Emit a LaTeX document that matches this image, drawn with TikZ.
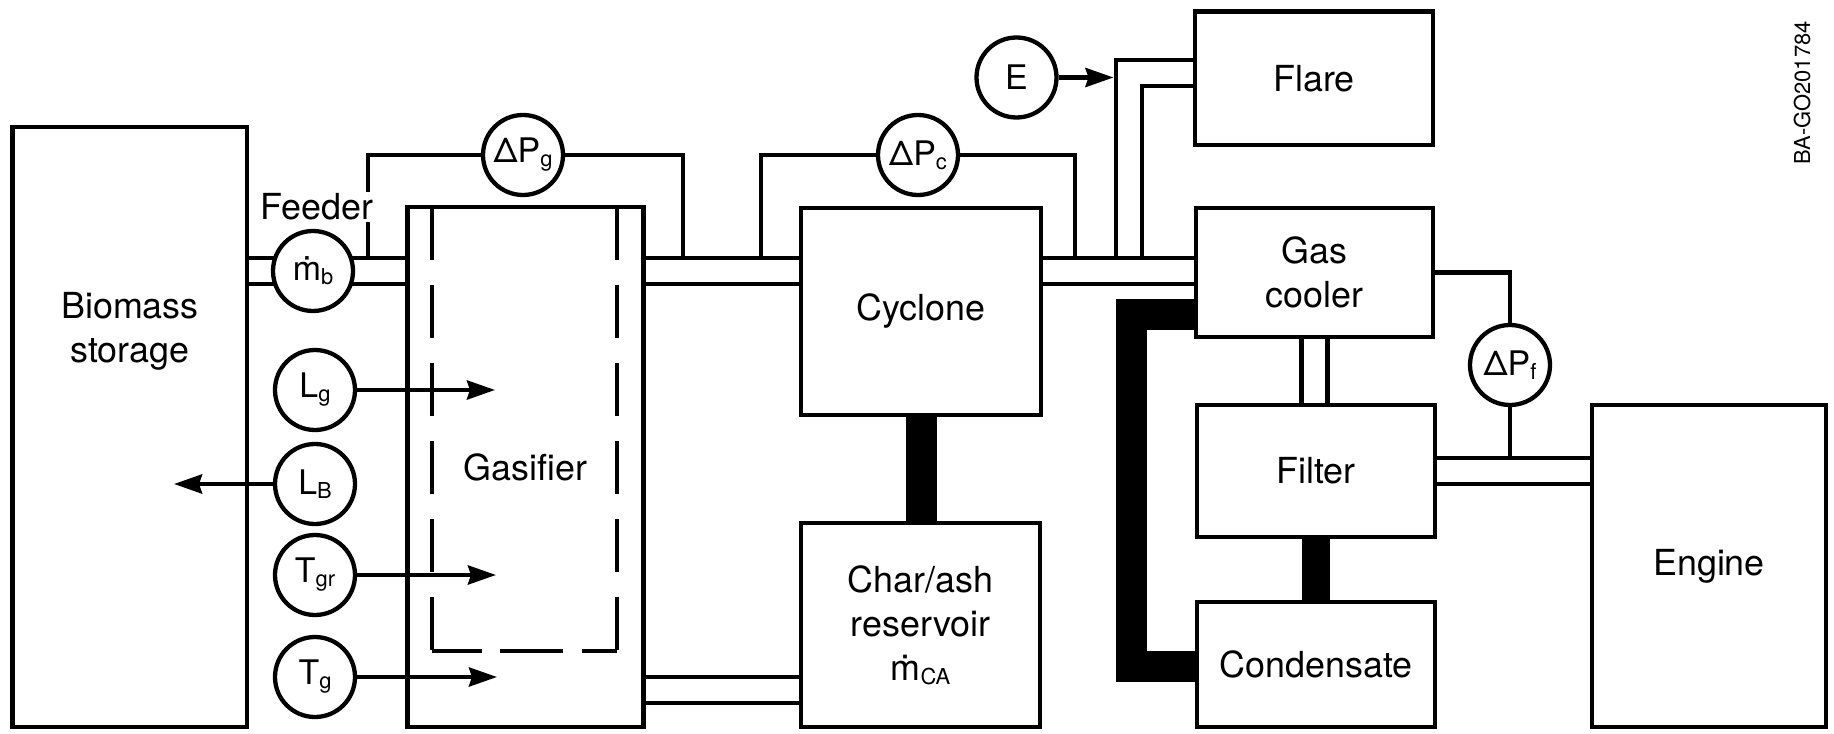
\documentclass[tikz,border=0pt]{standalone}
\usepackage{fontspec}
\setmainfont{TeX Gyre Heros}
\usetikzlibrary{arrows.meta,calc}
\pgfdeclarelayer{background}
\pgfsetlayers{background,main}
\newcommand\mysub[1]{\raisebox{-4bp}{\fontsize{22}{22}\selectfont #1}}
\newcommand\mdot{\accent"02D9 m}
\begin{document}
\begin{tikzpicture}[x=1bp,y=-1bp,
  every node/.style={font=\fontsize{36}{44}\selectfont},
  box/.style={draw, line width=4.3bp, inner sep=0pt, align=center},
  gauge/.style={draw, circle, line width=4.3bp, fill=white, minimum size=80bp, inner sep=0pt, font=\fontsize{34}{40}\selectfont},
  pipe/.style={line width=4.3bp, double=white, double distance=21.7bp},
  wire/.style={line width=4.3bp},
  arr/.style={line width=4.3bp, -{Stealth[length=28bp,width=19bp,inset=3bp]}},
  dashside/.style={line width=4.3bp, dash pattern=on 53bp off 25bp}]
\useasboundingbox (0,0) rectangle (1834,734);

% boxes
\node[box, minimum width=234.5bp, minimum height=600bp] (biomass) at (129.75,427) {};
\node[align=center] (biolabel) at (130,331) {Biomass\\storage};
\node[box, minimum width=236bp, minimum height=520bp] (gasifier) at (525.5,467) {Gasifier};
\node[box, minimum width=240bp, minimum height=207bp] (cyclone) at (921,311.5) {Cyclone};
\node[box, minimum width=239bp, minimum height=204bp] (char) at (920.5,625) {Char/ash\\reservoir\\\mdot\mysub{CA}};
\node[box, minimum width=238bp, minimum height=133.5bp] (flare) at (1314,78.25) {Flare};
\node[box, minimum width=237bp, minimum height=129bp] (cooler) at (1314.5,272.5) {Gas\\cooler};
\node[box, minimum width=238bp, minimum height=132bp] (filter) at (1316,471) {Filter};
\node[box, minimum width=238bp, minimum height=125bp] (condensate) at (1316,664.5) {Condensate};
\node[box, minimum width=234bp, minimum height=322bp] (engine) at (1709,566) {Engine};

% gauges
\node[gauge] (mb) at (313,271) {\mdot\mysub{b}};
\node[gauge] (dPg) at (523,155) {ΔP\mysub{g}};
\node[gauge] (dPc) at (918,155) {ΔP\mysub{c}};
\node[gauge] (E) at (1016.5,77.5) {E};
\node[gauge] (dPf) at (1510,365) {ΔP\mysub{f}};
\node[gauge] (Lg) at (315,390) {L\mysub{g}};
\node[gauge] (LB) at (315,484) {L\mysub{B}};
\node[gauge] (Tgr) at (315,575) {T\mysub{gr}};
\node[gauge] (Tg) at (315,677) {T\mysub{g}};

\node[fill=white, inner sep=1.5bp] (feeder) at (317,207) {Feeder};
\node[rotate=90, font=\fontsize{22}{22}\selectfont] (code) at (1802,93) {BA-GO201784};

% helper coordinates
\coordinate (rowA) at (0,271);
\coordinate (rowB) at (0,690);
\coordinate (gL) at (368,258);
\coordinate (gR) at (683,258);
\coordinate (cL) at (761,258);
\coordinate (cR) at (1075,258);
\coordinate (brBot) at (1129,271);
\coordinate (brTop) at (1129,73);
\coordinate (eTip) at (1113.5,77.5);
\coordinate (fTop) at (1510,458);
\coordinate (uTop) at (1131,314.5);
\coordinate (uBot) at (1131,666);
\coordinate (LgT) at (495,390);
\coordinate (LBT) at (174,484);
\coordinate (TgrT) at (496,575);
\coordinate (TgT) at (497,677);
\coordinate (dTL) at (432,207);
\coordinate (dBL) at (432,651);
\coordinate (dBR) at (617,651);
\coordinate (dTR) at (617,207);

\begin{pgfonlayer}{background}
  \draw[pipe] (brBot) -- (brTop) -- (flare.west |- brTop);
  \draw[pipe] (biomass.east |- rowA) -- (gasifier.west |- rowA);
  \draw[pipe] (gasifier.east |- rowA) -- (cyclone.west |- rowA);
  \draw[pipe] (cyclone.east |- rowA) -- (cooler.west |- rowA);
  \draw[pipe] (gasifier.east |- rowB) -- (char.west |- rowB);
  \draw[pipe] (cooler.south) -- (cooler.south |- filter.north);
  \draw[pipe] (filter.east) -- (filter.east -| engine.west);
  \draw[wire] (gL) |- (dPg);
  \draw[wire] (dPg) -| (gR);
  \draw[wire] (cL) |- (dPc);
  \draw[wire] (dPc) -| (cR);
  \draw[wire] (cooler.east) -| (dPf);
  \draw[wire] (dPf) -- (fTop);
  \draw[line width=31bp] (cyclone.south) -- (cyclone.south |- char.north);
  \draw[line width=28bp] (filter.south) -- (filter.south |- condensate.north);
  \draw[line width=31bp] (cooler.west |- uTop) -- (uTop) -- (uBot) -- (condensate.west |- uBot);
\end{pgfonlayer}

% dashed inner wall of gasifier
\draw[dashside] (dTL) -- (dBL);
\draw[dashside] (dTR) -- (dBR);
\draw[line width=4.3bp, dash pattern=on 50bp off 18bp on 63bp off 19bp on 60bp] (dBL) -- (dBR);

% arrows
\draw[arr] (E) -- (eTip);
\draw[arr] (Lg) -- (LgT);
\draw[arr] (LB) -- (LBT);
\draw[arr] (Tgr) -- (TgrT);
\draw[arr] (Tg) -- (TgT);
\end{tikzpicture}
\end{document}
